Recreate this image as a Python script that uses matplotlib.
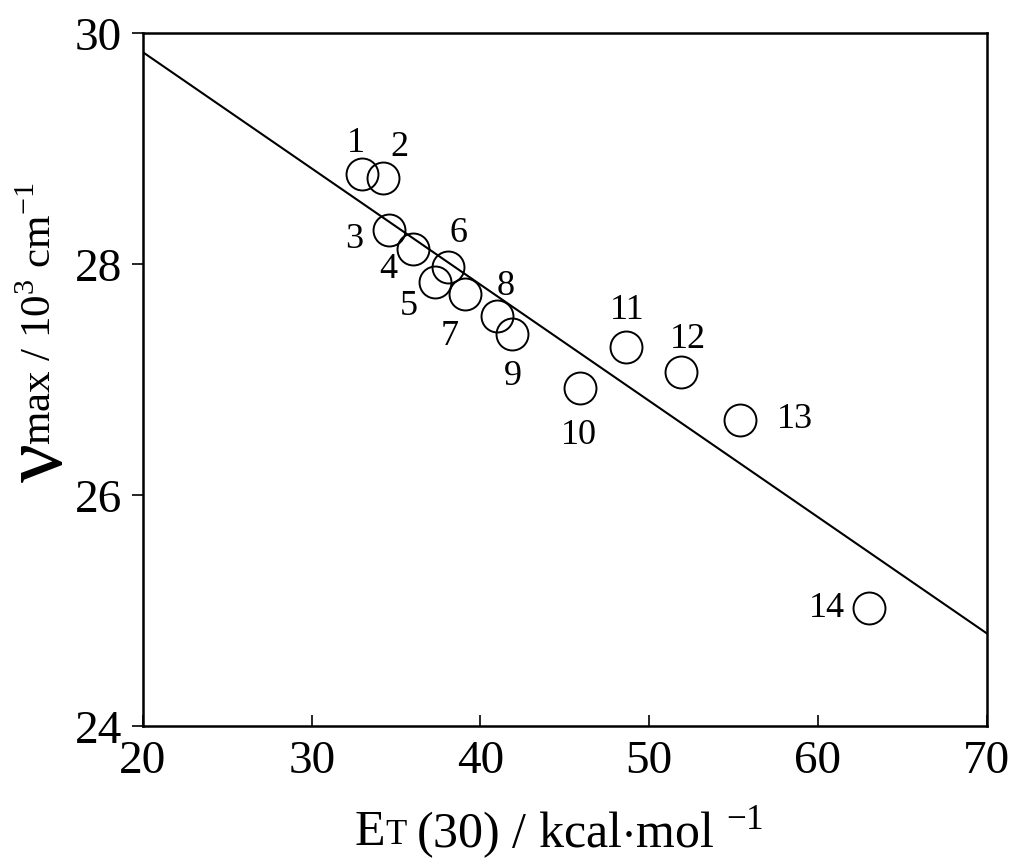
import matplotlib
matplotlib.use("Agg")
import matplotlib.pyplot as plt
import numpy as np

# --- data ---
et30 = [33.0, 34.2, 34.6, 36.0, 37.3, 38.1, 39.1, 41.0, 41.9, 45.9, 48.6, 51.9, 55.4, 63.0]
nu_max = [28.78, 28.74, 28.29, 28.13, 27.84, 27.97, 27.74, 27.55, 27.39, 26.92, 27.28, 27.06, 26.65, 25.02]
point_labels = ["1", "2", "3", "4", "5", "6", "7", "8", "9", "10", "11", "12", "13", "14"]

fit_x = [20, 70]
fit_y = [29.83, 24.80]

x_ticks = [20, 30, 40, 50, 60, 70]
y_ticks = [24, 26, 28, 30]

# label offsets (points) for the numbers next to each circle
label_offsets = [(-5, 22), (12, 23), (-25, -6), (-18, -14), (-19, -17), (7, 25), (-11, -30),
                 (6, 22), (0, -30), (-1, -33), (1, 27), (5, 24), (39, 1), (-30, 0)]

plt.rcParams['font.family'] = ['Liberation Serif', 'DejaVu Serif']
plt.rcParams['mathtext.fontset'] = 'custom'
plt.rcParams['mathtext.rm'] = 'Liberation Serif'

fig = plt.figure(figsize=(10.14, 8.62), dpi=100)
ax = fig.add_axes([0.141, 0.157, 0.832, 0.804])

ax.plot(fit_x, fit_y, color='black', lw=1.5)
ax.plot(et30, nu_max, 'o', ms=23, mfc='none', mec='black', mew=1.4)

for x, y, lab, off in zip(et30, nu_max, point_labels, label_offsets):
    ax.annotate(lab, (x, y), xytext=off, textcoords='offset points',
                ha='center', va='center', fontsize=26)

ax.set_xlim(20, 70)
ax.set_ylim(24, 30)
ax.set_xticks(x_ticks)
ax.set_yticks(y_ticks)
ax.tick_params(axis='x', direction='in', length=8, width=1.2, labelsize=34, pad=10)
ax.tick_params(axis='y', direction='out', length=8, width=1.2, labelsize=34, pad=7)
for s in ax.spines.values():
    s.set_linewidth(1.8)

# x label with small-caps T
fig.text(0.380, 0.034, 'E', fontsize=36, ha='right', va='center')
fig.text(0.380, 0.031, 'T', fontsize=25, ha='left', va='center')
fig.text(0.410, 0.034, r'(30) / kcal$\cdot$mol $^{-1}$', fontsize=36, ha='left', va='center')

# y label with large nu
fig.text(0.040, 0.463, 'ν', fontsize=62, rotation=90, ha='center', va='center')
fig.text(0.040, 0.636, r'max / 10$^{3}$ cm$^{-1}$', fontsize=31, rotation=90, ha='center', va='center')

fig.savefig('out.png', dpi=100)
